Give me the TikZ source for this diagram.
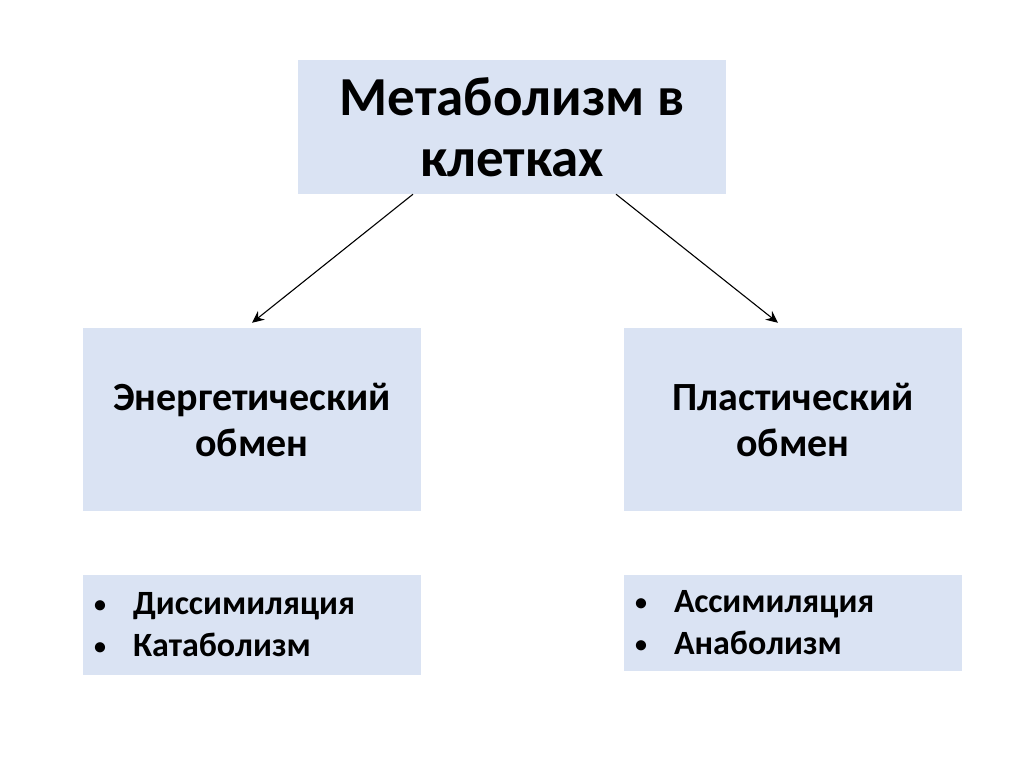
\documentclass[tikz,border=0pt]{standalone}
\usepackage{fontspec}
\setmainfont{Carlito}
\usetikzlibrary{arrows.meta}

\definecolor{boxblue}{RGB}{218,227,243}
\newcommand{\itemdot}{\makebox[39pt][l]{\raisebox{2pt}{\fontsize{24}{24}\selectfont•}}}

\tikzset{
    box/.style={fill=boxblue, inner sep=0pt, align=center, font=\bfseries},
    listbox/.style={fill=boxblue, inner xsep=11pt, inner ysep=0pt, align=left,
        font=\fontsize{34}{42}\selectfont\bfseries},
    link/.style={-{Stealth[length=12pt,width=11pt,inset=4pt]}, line width=1.1pt}
}

\begin{document}
\begin{tikzpicture}[x=1pt, y=-1pt]
    \fill[white] (0,0) rectangle (1024,768);
    \useasboundingbox (0,0) rectangle (1024,768);

    \node[box, minimum width=428pt, minimum height=134pt,
          font=\fontsize{55}{61}\selectfont\bfseries] (cell) at (512,127)
          {Метаболизм в\\клетках};
    \node[box, minimum width=338pt, minimum height=183pt,
          font=\fontsize{40}{46}\selectfont\bfseries] (energy) at (252,419.5)
          {Энергетический\\обмен};
    \node[box, minimum width=338pt, minimum height=183pt,
          font=\fontsize{40}{46}\selectfont\bfseries] (plastic) at (793,419.5)
          {Пластический\\обмен};

    \node[listbox, text width=316pt, minimum height=100pt] (catab) at (252,625)
          {\itemdot Диссимиляция\\\itemdot Катаболизм};
    \node[listbox, text width=316pt, minimum height=96pt] (anab) at (793,623)
          {\itemdot Ассимиляция\\\itemdot Анаболизм};

    \draw[link] ([xshift=-99pt]cell.south) -- ([yshift=5pt]energy.north);
    \draw[link] ([xshift=104pt]cell.south) -- ([xshift=-15pt,yshift=5pt]plastic.north);
\end{tikzpicture}
\end{document}
